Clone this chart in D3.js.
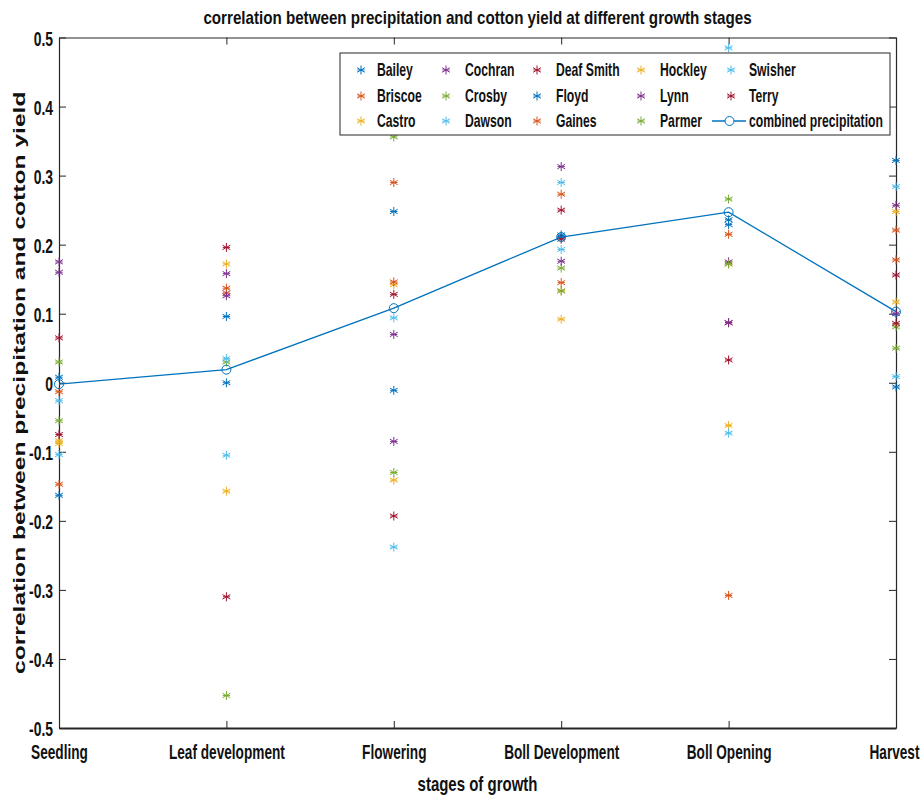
<!DOCTYPE html>
<html>
<head>
<meta charset="utf-8">
<script src="https://cdn.jsdelivr.net/npm/d3@7/dist/d3.min.js"></script>
<style>
  html, body { margin: 0; padding: 0; background: #ffffff; }
  svg text { font-family: "Liberation Sans Narrow", "Arial Narrow", "Liberation Sans", Arial, sans-serif; font-weight: bold; fill: #111; }
</style>
</head>
<body>
<svg id="chart" width="923" height="797"></svg>
<script>
// ---------------- data ----------------
const stages = ["Seedling", "Leaf development", "Flowering", "Boll Development", "Boll Opening", "Harvest"];
const counties = ["Bailey", "Briscoe", "Castro", "Cochran", "Crosby", "Dawson", "Deaf Smith",
                  "Floyd", "Gaines", "Hockley", "Lynn", "Parmer", "Swisher", "Terry"];
const bailey    = [ 0.008,  0.096,  0.248, 0.214,  0.236,  0.322];
const briscoe   = [-0.013,  0.137,  0.290, 0.273,  0.215,  0.221];
const castro    = [-0.088,  0.172,  0.142, 0.133,  0.172,  0.248];
const cochran   = [ 0.175,  0.158,  0.070, 0.313,  0.175,  0.257];
const crosby    = [ 0.030,  0.030,  0.356, 0.166,  0.266,  0.081];
const dawson    = [-0.026,  0.035,  0.094, 0.290,  0.485,  0.284];
const deafSmith = [ 0.065,  0.196,  0.128, 0.250,  0.087,  0.156];
const floyd     = [-0.163,  0.000, -0.011, 0.211,  0.229, -0.006];
const gaines    = [-0.147,  0.130,  0.146, 0.145, -0.308,  0.178];
const hockley   = [-0.084, -0.157, -0.141, 0.092, -0.062,  0.117];
const lynn      = [ 0.160,  0.126, -0.085, 0.176,  0.087,  0.100];
const parmer    = [-0.055, -0.453, -0.130, 0.133,  0.172,  0.050];
const swisher   = [-0.104, -0.105, -0.238, 0.193, -0.073,  0.009];
const terry     = [-0.075, -0.310, -0.193, 0.208,  0.033,  0.086];
const combined  = [-0.002,  0.019,  0.108, 0.211,  0.247,  0.103];
const combinedName = "combined precipitation";
const yTicks = [-0.5, -0.4, -0.3, -0.2, -0.1, 0, 0.1, 0.2, 0.3, 0.4, 0.5];
const yTickLabels = ["-0.5", "-0.4", "-0.3", "-0.2", "-0.1", "0", "0.1", "0.2", "0.3", "0.4", "0.5"];
const titleText = "correlation between precipitation and cotton yield at different growth stages";
const xTitle = "stages of growth";
const yTitle = "correlation between precipitation and cotton yield";

const seriesValues = [bailey, briscoe, castro, cochran, crosby, dawson, deafSmith,
                      floyd, gaines, hockley, lynn, parmer, swisher, terry];
const palette = ["#0072BD", "#D95319", "#EDB120", "#7E2F8E", "#77AC30", "#4DBEEE", "#A2142F"];
const series = counties.map((name, i) => ({ name, values: seriesValues[i], color: palette[i % palette.length] }));
const lineColor = "#0072BD";

// ---------------- layout ----------------
const L = 59, R = 896, T = 37.5, B = 728;
const axisColor = "#262626";
const svg = d3.select("#chart");

const x = d3.scalePoint().domain(stages).range([L, R]);
const y = d3.scaleLinear().domain([-0.5, 0.5]).range([B, T]);

// condense text horizontally (narrow bold look) using a real transform
function condense(sel, refWidth, refIndex) {
  const nodes = sel.nodes();
  const nat = nodes.map(n => n.getComputedTextLength());
  const f = refWidth / nat[refIndex];
  nodes.forEach(n => {
    const tx = +(n.getAttribute("x") || 0), ty = +(n.getAttribute("y") || 0);
    n.setAttribute("x", 0); n.setAttribute("y", 0);
    n.setAttribute("transform", `translate(${tx},${ty}) scale(${f.toFixed(4)},1)`);
  });
}

// ---------------- axes ----------------
const gx = svg.append("g").attr("transform", `translate(0,${B})`)
  .call(d3.axisBottom(x).tickSizeInner(-7).tickSizeOuter(0).tickPadding(0));
const gxTop = svg.append("g").attr("transform", `translate(0,${T})`)
  .call(d3.axisTop(x).tickSizeInner(-7).tickSizeOuter(0).tickFormat(""));
const gy = svg.append("g").attr("transform", `translate(${L},0)`)
  .call(d3.axisLeft(y).tickValues(yTicks).tickSizeInner(-7).tickSizeOuter(0).tickPadding(6)
    .tickFormat((d, i) => yTickLabels[i]));
const gyR = svg.append("g").attr("transform", `translate(${R},0)`)
  .call(d3.axisRight(y).tickValues(yTicks).tickSizeInner(-7).tickSizeOuter(0).tickFormat(""));

[gx, gxTop, gy, gyR].forEach(g => {
  g.select(".domain").attr("stroke", axisColor).attr("stroke-width", 1.2);
  g.selectAll(".tick line").attr("stroke", axisColor).attr("stroke-width", 1);
});
gx.select(".domain").attr("stroke-width", 1.8);

gx.selectAll(".tick text")
  .attr("y", 31).attr("dy", null)
  .style("font-size", "21px").attr("fill", "#111");
gx.selectAll(".tick").filter(d => d === stages[stages.length - 1]).select("text")
  .attr("text-anchor", "end").attr("x", 919 - R);
condense(gx.selectAll(".tick text"), 116, 1);

gy.selectAll(".tick text")
  .style("font-size", "21px").attr("fill", "#111").attr("dy", "0.36em");
condense(gy.selectAll(".tick text"), 24, 0);

// ---------------- titles ----------------
const title = svg.append("text").attr("x", 477.5).attr("y", 24).attr("text-anchor", "middle")
  .style("font-size", "18px").text(titleText);
condense(title, 549, 0);

const xt = svg.append("text").attr("x", 477.5).attr("y", 791).attr("text-anchor", "middle")
  .style("font-size", "21px").text(xTitle);
condense(xt, 120, 0);

const yt = svg.append("text").attr("text-anchor", "middle")
  .style("font-size", "16px")
  .style("font-family", "'Liberation Sans', Arial, sans-serif")
  .text(yTitle);
{
  const w = yt.node().getComputedTextLength();
  const f = 583 / w;
  yt.attr("transform", `translate(25,${(T + B) / 2}) rotate(-90) scale(${f.toFixed(4)},1)`);
}

// ---------------- marks ----------------
function asterisk(g, cx, cy, color, r) {
  const a = [90, 30, 150];
  const path = a.map(deg => {
    const rad = deg * Math.PI / 180;
    const dx = r * Math.cos(rad), dy = r * Math.sin(rad);
    return `M${cx - dx},${cy - dy}L${cx + dx},${cy + dy}`;
  }).join("") + `M${cx - r * 0.8},${cy}L${cx + r * 0.8},${cy}`;
  g.append("path").attr("d", path).attr("stroke", color).attr("stroke-width", 1).attr("fill", "none");
}

const marks = svg.append("g");
series.forEach(s => {
  const g = marks.append("g");
  s.values.forEach((v, i) => asterisk(g, x(stages[i]), y(v), s.color, 4.5));
});

const line = d3.line().x((d, i) => x(stages[i])).y(d => y(d));
svg.append("path").datum(combined).attr("d", line)
  .attr("fill", "none").attr("stroke", lineColor).attr("stroke-width", 1.3);
svg.append("g").selectAll("circle").data(combined).join("circle")
  .attr("cx", (d, i) => x(stages[i])).attr("cy", d => y(d)).attr("r", 4.5)
  .attr("fill", "none").attr("stroke", lineColor).attr("stroke-width", 1);

// ---------------- legend ----------------
const legend = svg.append("g");
legend.append("rect").attr("x", 340).attr("y", 53).attr("width", 550).attr("height", 82)
  .attr("fill", "#fff").attr("stroke", axisColor).attr("stroke-width", 1);
const colMarker = [361, 446, 537, 641, 731];
const colText = [377, 465, 556, 660, 749];
const rowY = [70, 96, 121];
const legendItems = series.map(s => ({ name: s.name, color: s.color, type: "star" }))
  .concat([{ name: combinedName, color: lineColor, type: "line" }]);
legendItems.forEach((it, k) => {
  const col = Math.floor(k / 3), row = k % 3;
  const cy = rowY[row];
  if (it.type === "star") {
    asterisk(legend, colMarker[col], cy, it.color, 4.5);
  } else {
    legend.append("line").attr("x1", 712).attr("x2", 746).attr("y1", cy).attr("y2", cy)
      .attr("stroke", it.color).attr("stroke-width", 1.3);
    legend.append("circle").attr("cx", 729.5).attr("cy", cy).attr("r", 4.5)
      .attr("fill", "#fff").attr("stroke", it.color).attr("stroke-width", 1);
  }
  legend.append("text").attr("class", "lg").attr("x", colText[col]).attr("y", cy).attr("dy", "0.36em")
    .style("font-size", "18px").text(it.name);
});
condense(legend.selectAll("text.lg"), 134, legendItems.length - 1);
</script>
</body>
</html>
